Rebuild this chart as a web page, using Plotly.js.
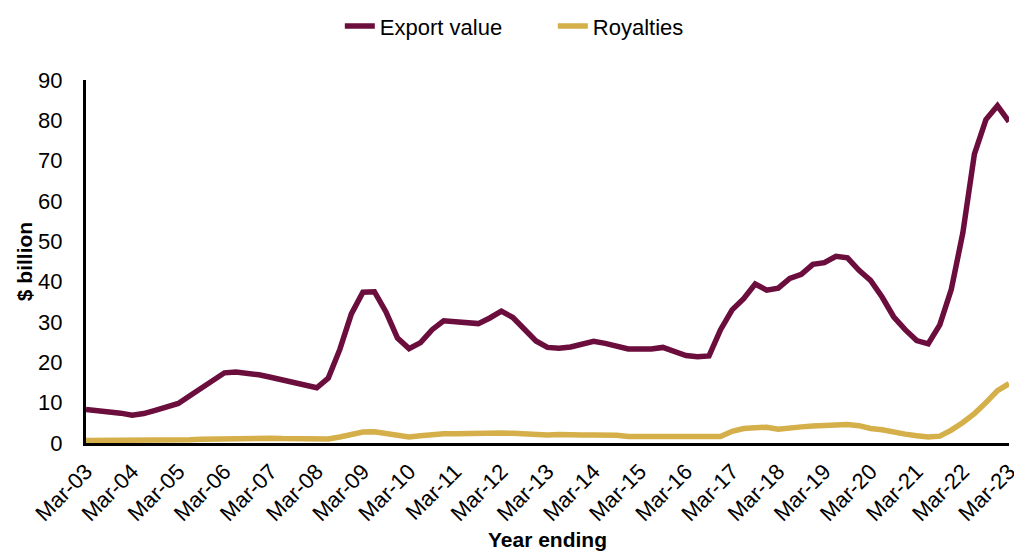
<!DOCTYPE html>
<html>
<head>
<meta charset="utf-8">
<script src="https://cdn.plot.ly/plotly-3.0.1.min.js"></script>
<style>html,body{margin:0;padding:0;background:#fff;}#chart{width:1014px;height:559px;}</style>
</head>
<body>
<div id="chart"></div>
<script>
// Quarterly periods (year ending), Mar-03 .. Mar-23
const quarters = [];
const qNames = ["Mar","Jun","Sep","Dec"];
for (let y = 3; y <= 23; y++) {
  for (let q = 0; q < 4; q++) {
    if (y === 23 && q > 0) break;
    quarters.push(qNames[q] + "-" + String(y).padStart(2, "0"));
  }
}
const tickLabels = ["Mar-03","Mar-04","Mar-05","Mar-06","Mar-07","Mar-08","Mar-09","Mar-10","Mar-11","Mar-12","Mar-13","Mar-14","Mar-15","Mar-16","Mar-17","Mar-18","Mar-19","Mar-20","Mar-21","Mar-22","Mar-23"];

const exportValue = [
  8.3, 8.1, 7.8, 7.4, 6.9, 7.3, 8.1, 8.9, 9.8, 11.7, 13.6, 15.5,
  17.4, 17.6, 17.4, 16.9, 16.3, 15.6, 15.0, 14.4, 13.7, 16.1, 23.2, 32.0,
  37.4, 37.5, 32.5, 26.0, 23.4, 24.9, 28.1, 30.3, 30.0, 29.8, 29.6, 31.0,
  32.7, 31.1, 28.2, 25.3, 23.7, 23.5, 23.8, 24.5, 25.2, 24.7, 24.0, 23.3,
  23.3, 23.3, 23.7, 22.8, 21.7, 21.4, 21.6, 28.1, 33.0, 35.8, 39.4, 37.9,
  38.4, 40.8, 41.8, 44.3, 44.7, 46.3, 45.9, 42.8, 40.3, 36.2, 31.3, 28.1,
  25.4, 24.6, 29.3, 38.1, 52.1, 71.6, 80.2, 83.6, 79.7
];
const royalties = [
  0.6, 0.6, 0.6, 0.5, 0.5, 0.5, 0.6, 0.6, 0.7, 0.8, 0.9, 1.0,
  1.1, 1.2, 1.2, 1.2, 1.2, 1.1, 1.0, 1.0, 0.9, 1.0, 1.5, 2.1,
  2.7, 2.8, 2.4, 2.0, 1.5, 1.8, 2.1, 2.3, 2.3, 2.4, 2.5, 2.5,
  2.5, 2.4, 2.2, 2.0, 2.0, 2.1, 1.9, 2.0, 2.0, 2.0, 1.9, 1.6,
  1.6, 1.6, 1.7, 1.8, 1.7, 1.7, 1.7, 1.6, 2.9, 3.6, 3.8, 3.9,
  3.4, 3.8, 4.0, 4.2, 4.4, 4.5, 4.6, 4.3, 3.6, 3.3, 2.6, 2.2,
  1.8, 1.5, 1.7, 3.2, 5.1, 7.3, 10.0, 13.0, 14.7
];

const font = "Liberation Sans, Arial, sans-serif";

const traces = [
  {x: quarters, y: exportValue, name: "Export value", type: "scatter", mode: "lines",
   line: {color: "#6B0D3D", width: 5.5}},
  {x: quarters, y: royalties, name: "Royalties", type: "scatter", mode: "lines",
   line: {color: "#D4AF4A", width: 5.5}}
];

const layout = {
  width: 1014, height: 559,
  margin: {l: 86, r: 5, t: 71, b: 116},
  paper_bgcolor: "#fff", plot_bgcolor: "#fff",
  font: {family: font, color: "#000", size: 22},
  showlegend: true,
  legend: {orientation: "h", x: 0.275, xanchor: "left", y: 1.148, yanchor: "middle",
           font: {size: 22, family: font}, entrywidth: 168, entrywidthmode: "pixels"},
  xaxis: {
    type: "category", range: [0, quarters.length - 1],
    tickmode: "array", tickvals: tickLabels, ticktext: tickLabels,
    tickangle: -45, tickfont: {size: 22, family: font},
    showgrid: false, zeroline: false, automargin: false,
    showline: true, linecolor: "#000", linewidth: 3,
    ticks: "", ticklabelstandoff: 4,
    title: {text: "<b>Year ending</b>", font: {size: 21, family: font}}
  },
  yaxis: {
    range: [0, 90], dtick: 10, tick0: 0,
    tickfont: {size: 22, family: font},
    showgrid: false, zeroline: false, automargin: false,
    showline: true, linecolor: "#000", linewidth: 3,
    ticks: "", ticklabelstandoff: 16,
    title: {text: "<b>$ billion</b>", font: {size: 21, family: font}}
  }
};

Plotly.newPlot("chart", traces, layout, {displayModeBar: false, staticPlot: true});
</script>
</body>
</html>
